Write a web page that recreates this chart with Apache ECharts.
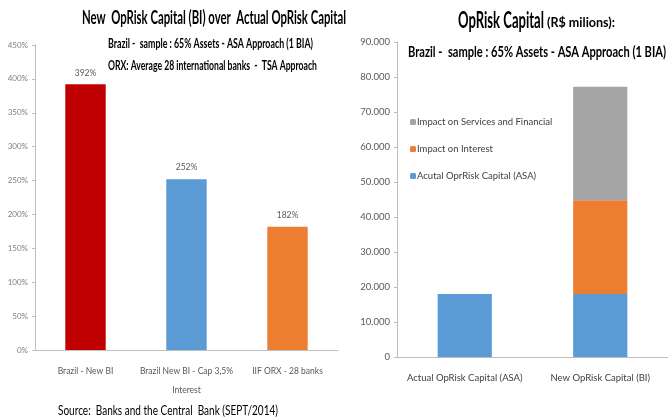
<!DOCTYPE html>
<html>
<head>
<meta charset="utf-8">
<script src="https://cdn.jsdelivr.net/npm/echarts@6/dist/echarts.min.js"></script>
<style>
  html, body { margin: 0; padding: 0; background: #fff; }
  #main { width: 668px; height: 418px; }
</style>
</head>
<body>
<div id="main"></div>
<script>
// left chart: new BI capital as % of actual
var ratioCats = ['Brazil - New BI', 'Brazil New BI - Cap 3,5%\nInterest', 'IIF ORX - 28 banks']
var ratioValues = [392, 252, 182]
var ratioColors = ['#C00000', '#5B9BD5', '#ED7D31']

// right chart: capital in R$ millions
var capCats = ['Actual OpRisk Capital (ASA)', 'New OpRisk Capital (BI)']
var actualAsa = [18000, 18000]
var impactInterest = [null, 26800]
var impactServices = [null, 32400]

var font = 'Lato, "Liberation Sans", sans-serif'
var axisGray = '#BFBFBF'
var textGray = '#595959'

// the original uses a condensed face, so squeeze titles to their width
var measureCtx = document.createElement('canvas').getContext('2d')
function squeezed(text, x, y, size, weight, width) {
  var f = weight + ' ' + size + 'px ' + font
  measureCtx.font = f
  var s = width / measureCtx.measureText(text).width
  return {
    type: 'text', x: x, y: y, scaleX: s,
    style: { text: text, font: f, fill: '#000', textAlign: 'left', textVerticalAlign: 'middle' }
  }
}

var chart = echarts.init(document.getElementById('main'))

chart.setOption({
  animation: false,
  textStyle: { fontFamily: font },
  graphic: [
    squeezed('New  OpRisk Capital (BI) over  Actual OpRisk Capital', 82, 18, 19, 'bold', 264),
    squeezed('Brazil -  sample : 65% Assets - ASA Approach (1 BIA)', 108, 44, 13.5, 'bold', 205),
    squeezed('ORX: Average 28 international banks  -  TSA Approach', 108, 66, 13.5, 'bold', 209),
    squeezed('OpRisk Capital', 458, 21, 22, 'bold', 86),
    squeezed('(R$ milions):', 547, 23, 13, 'bold', 68),
    squeezed('Brazil -  sample : 65% Assets - ASA Approach (1 BIA)', 408, 52, 16, 'bold', 258),
    squeezed('Source:  Banks and the Central  Bank (SEPT/2014)', 58, 411, 13, 'normal', 220)
  ],
  legend: {
    left: 405, top: 112, orient: 'vertical', itemGap: 17,
    itemWidth: 6, itemHeight: 6,
    data: ['Impact on Services and Financial', 'Impact on Interest', 'Acutal OprRisk Capital (ASA)'],
    textStyle: { fontFamily: font, fontSize: 9.5, color: '#404040', padding: [0, 0, 0, -4] }
  },
  grid: [
    { left: 35, right: 330, top: 45, bottom: 68 },
    { left: 397, right: 0, top: 42, bottom: 61 }
  ],
  xAxis: [
    {
      type: 'category', gridIndex: 0, data: ratioCats,
      axisLine: { lineStyle: { color: axisGray } },
      axisTick: { length: 5, lineStyle: { color: axisGray } },
      axisLabel: { color: textGray, fontSize: 8.5, margin: 12, lineHeight: 19, interval: 0 }
    },
    {
      type: 'category', gridIndex: 1, data: capCats,
      axisLine: { lineStyle: { color: axisGray } },
      axisTick: { length: 5, lineStyle: { color: axisGray } },
      axisLabel: { color: '#404040', fontSize: 9.5, margin: 16, interval: 0 }
    }
  ],
  yAxis: [
    {
      type: 'value', gridIndex: 0, min: 0, max: 450, interval: 50,
      axisLine: { show: true, lineStyle: { color: axisGray } },
      axisTick: { show: true, length: 3, lineStyle: { color: axisGray } },
      splitLine: { show: false },
      axisLabel: { color: '#7F7F7F', fontSize: 8, margin: 7, formatter: '{value}%' }
    },
    {
      type: 'value', gridIndex: 1, min: 0, max: 90000, interval: 10000,
      axisLine: { show: true, lineStyle: { color: axisGray } },
      axisTick: { show: true, length: 3, lineStyle: { color: axisGray } },
      splitLine: { show: false },
      axisLabel: {
        color: textGray, fontSize: 9.5, margin: 7,
        formatter: function (v) { return v === 0 ? '0' : (v / 1000).toFixed(3) }
      }
    }
  ],
  series: [
    {
      type: 'bar', xAxisIndex: 0, yAxisIndex: 0, barWidth: '40%',
      data: ratioValues.map(function (v, i) {
        return { value: v, itemStyle: { color: ratioColors[i] } }
      }),
      label: { show: true, position: 'top', distance: 7, color: textGray, fontSize: 8.5, formatter: '{c}%' }
    },
    {
      name: 'Acutal OprRisk Capital (ASA)', type: 'bar', stack: 'cap',
      xAxisIndex: 1, yAxisIndex: 1, barWidth: '40%',
      itemStyle: { color: '#5B9BD5' }, data: actualAsa
    },
    {
      name: 'Impact on Interest', type: 'bar', stack: 'cap',
      xAxisIndex: 1, yAxisIndex: 1, barWidth: '40%',
      itemStyle: { color: '#ED7D31' }, data: impactInterest
    },
    {
      name: 'Impact on Services and Financial', type: 'bar', stack: 'cap',
      xAxisIndex: 1, yAxisIndex: 1, barWidth: '40%',
      itemStyle: { color: '#A5A5A5' }, data: impactServices
    }
  ]
})
</script>
</body>
</html>
